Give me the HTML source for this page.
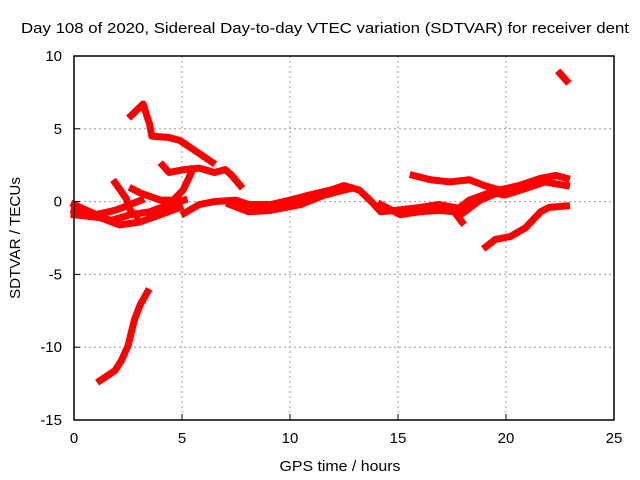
<!DOCTYPE html>
<html><head><meta charset="utf-8"><style>
html,body{margin:0;padding:0;background:#fff;}
svg{display:block;font-family:"Liberation Sans",sans-serif;}
</style></head><body>
<svg id="chart" width="640" height="480">
<rect width="640" height="480" fill="#fff"/>
<text x="325" y="33" text-anchor="middle" font-size="15" textLength="608" lengthAdjust="spacingAndGlyphs">Day 108 of 2020, Sidereal Day-to-day VTEC variation (SDTVAR) for receiver dent</text>
<text x="340" y="471" text-anchor="middle" font-size="15" textLength="121" lengthAdjust="spacingAndGlyphs">GPS time / hours</text>
<text transform="translate(20,238) rotate(-90)" text-anchor="middle" font-size="15" textLength="122" lengthAdjust="spacingAndGlyphs">SDTVAR / TECUs</text>
<g id="grid"></g><g id="series"></g>
<rect x="74" y="56" width="540" height="364" fill="none" stroke="#000" stroke-width="1.5"/>
<g id="ticks"></g>
</svg>
<script>
const xTicks=[0,5,10,15,20,25];
const yTicks=[10,5,0,-5,-10,-15];
const sA=[[2.64,5.9],[3.2,6.7],[3.5,5.3],[3.6,4.5],[4.4,4.4],[4.9,4.2],[5.6,3.5],[6.4,2.7]];
const sB=[[4.1,2.5],[4.4,2.0],[5.1,2.2],[5.8,2.3],[6.5,2.0],[7.0,2.2],[7.3,1.8],[7.7,1.1]];
const sC=[[2.7,0.87],[3.06,0.6],[4.0,0.1],[4.6,0.1],[5.05,0.8],[5.5,2.2]];
const sD=[[1.9,1.3],[2.4,0.25],[2.6,-0.6],[2.9,-1.0]];
const sE=[[0,-0.2],[0.74,-0.7],[1.7,-1.3],[2.6,-0.9],[3.5,-0.7],[4.4,-0.2],[5.1,0.1]];
const sF=[[0,-0.9],[1.2,-1.1],[2.1,-1.6],[3.05,-1.4],[4.0,-0.9],[4.9,-0.4]];
const sG=[[0,-0.6],[1,-0.9],[1.9,-0.6],[2.6,-0.2],[3.1,0.1]];
const sH=[[5.1,-0.8],[5.8,-0.2],[6.5,0],[7.5,0.1],[8.1,-0.2],[9.1,-0.2],[10,0.1],[10.9,0.45],[11.9,0.8],[12.5,1.1],[13.2,0.8],[13.7,0.1],[14.2,-0.7],[14.9,-0.6],[16,-0.4],[16.9,-0.2],[17.6,-0.4]];
const sI=[[7.2,-0.2],[8.1,-0.7],[9.1,-0.6],[10.5,-0.2],[11.6,0.45],[12.8,0.9]];
const sJ=[[14.2,-0.2],[15.1,-0.9],[16,-0.7],[16.9,-0.6],[17.6,-0.7],[17.96,-1.4]];
const sK=[[15.7,1.8],[16.5,1.5],[17.4,1.35],[18.3,1.5],[19,1.1],[19.7,0.8],[20.6,1.1],[21.6,1.6],[22.3,1.8],[22.8,1.6]];
const sL=[[17.6,-0.7],[18.3,0.1],[19.3,0.65],[19.95,0.45],[20.9,0.9],[21.8,1.35],[22.8,1.1]];
const sM=[[17.9,-0.9],[18.8,0.1],[19.7,0.65]];
const sN=[[19.07,-3.1],[19.5,-2.6],[20.2,-2.4],[20.9,-1.8],[21.6,-0.7],[22,-0.4],[22.8,-0.3]];
const sO=[[22.5,8.8],[22.8,8.3]];
const sP=[[1.2,-12.3],[1.9,-11.6],[2.2,-10.9],[2.5,-9.9],[2.8,-8.1],[3.06,-7.1],[3.4,-6.2]];
const allSeries=[sA,sB,sC,sD,sE,sF,sG,sH,sI,sJ,sK,sL,sM,sN,sO,sP];
const NS="http://www.w3.org/2000/svg";
const X=v=>74+v*21.6, Y=v=>201.6-v*14.56;
const grid=document.getElementById('grid'),ticks=document.getElementById('ticks'),ser=document.getElementById('series');
function mk(tag,attrs,parent){const e=document.createElementNS(NS,tag);for(const k in attrs)e.setAttribute(k,attrs[k]);parent.appendChild(e);return e;}
xTicks.forEach(t=>{
 if(t>0&&t<25){const g=mk('line',{x1:X(t),x2:X(t),y1:56,y2:420,stroke:'#999','stroke-dasharray':'2,3'},grid);
 
 }
 const tk=mk('line',{x1:X(t),x2:X(t),y1:420,y2:414,stroke:'#000'},ticks);
 
 
 const l=mk('text',{x:X(t),y:443,'text-anchor':'middle','font-size':15},ticks);l.textContent=t;
 
 
});
yTicks.forEach(t=>{
 if(t<10&&t>-15){const g=mk('line',{x1:74,x2:614,y1:Y(t),y2:Y(t),stroke:'#999','stroke-dasharray':'2,3'},grid);
 
 }
 const tk=mk('line',{x1:74,x2:80,y1:Y(t),y2:Y(t),stroke:'#000'},ticks);
 
 
 const l=mk('text',{x:62,y:Y(t)+5,'text-anchor':'end','font-size':15},ticks);l.textContent=t;
 
 
});
allSeries.forEach(s=>{
 const p=mk('polyline',{points:s.map(d=>X(d[0])+','+Y(d[1])).join(' '),fill:'none',stroke:'#f00','stroke-width':7,'stroke-linejoin':'round','stroke-linecap':'square'},ser);
 
 
});
</script>
</body></html>
